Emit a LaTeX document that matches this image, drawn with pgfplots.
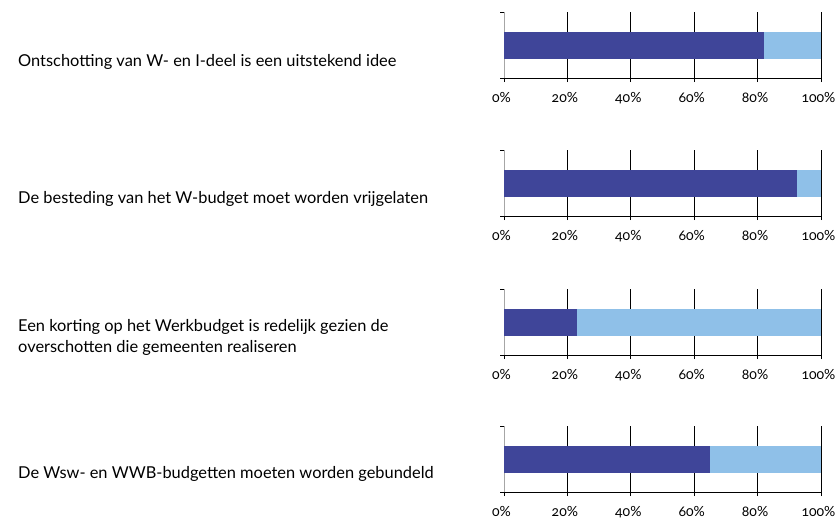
\documentclass[border=0pt]{standalone}
\usepackage{fontspec}
\setmainfont{Lato}[Numbers=OldStyle]
\usepackage{pgfplots}
\pgfplotsset{compat=1.18}
\definecolor{darkb}{RGB}{63,69,153}
\definecolor{lightb}{RGB}{143,192,232}
\pgfplotsset{
  panel/.style={
    xbar stacked,
    scale only axis,
    width=317pt, height=66pt,
    xmin=0, xmax=100, ymin=0, ymax=1,
    axis x line*=bottom, axis y line*=left,
    x axis line style={black, thick, -},
    y axis line style={gray!70, thick, -},
    xtick={0,20,40,60,80,100},
    xticklabels={0\%,20\%,40\%,60\%,80\%,100\%},
    ytick={0,1}, yticklabels={},
    tick align=outside,
    major tick length=4pt,
    x tick style={black, thick},
    y tick style={black, thick},
    xmajorgrids, grid style={black, thick},
    bar width=27pt,
    tick label style={font=\fontsize{14}{16}\selectfont},
    xticklabel style={yshift=-7pt, xshift=-2.5pt},
    /pgf/number format/assume math mode=true,
    enlargelimits=false,
    clip=false,
  }
}
\begin{document}
\begin{tikzpicture}
\path[use as bounding box] (0pt,0pt) rectangle (836pt,-523pt);
\tikzset{lbl/.style={anchor=west, align=left, font=\fontsize{16.4}{21}\selectfont, inner sep=0pt}}
\node[lbl] at (18pt,-62pt) {Ontschotting van W- en I-deel is een uitstekend idee};
\node[lbl] at (18pt,-199pt) {De besteding van het W-budget moet worden vrijgelaten};
\node[lbl] at (18pt,-337.5pt) {Een korting op het Werkbudget is redelijk gezien de\\overschotten die gemeenten realiseren};
\node[lbl] at (18pt,-474pt) {De Wsw- en WWB-budgetten moeten worden gebundeld};

\begin{axis}[panel, at={(504pt,-78pt)}, anchor=origin]
\addplot[fill=darkb, draw=none] coordinates {(82,0.5)};
\addplot[fill=lightb, draw=none] coordinates {(18,0.5)};
\end{axis}
\begin{axis}[panel, at={(504pt,-216pt)}, anchor=origin]
\addplot[fill=darkb, draw=none] coordinates {(92.5,0.5)};
\addplot[fill=lightb, draw=none] coordinates {(7.5,0.5)};
\end{axis}
\begin{axis}[panel, at={(504pt,-355pt)}, anchor=origin]
\addplot[fill=darkb, draw=none] coordinates {(23,0.5)};
\addplot[fill=lightb, draw=none] coordinates {(77,0.5)};
\end{axis}
\begin{axis}[panel, at={(504pt,-492pt)}, anchor=origin]
\addplot[fill=darkb, draw=none] coordinates {(65,0.5)};
\addplot[fill=lightb, draw=none] coordinates {(35,0.5)};
\end{axis}
\end{tikzpicture}
\end{document}
